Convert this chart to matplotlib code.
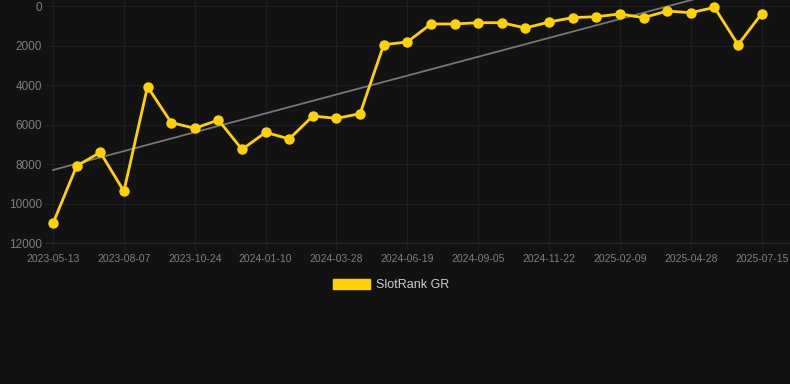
import matplotlib.pyplot as plt
from matplotlib.patches import Patch
import numpy as np

# rank values (lower = better, axis inverted)
ranks = [11000, 8100, 7410, 9380, 4085, 5900, 6195, 5770, 7260, 6400,
         6730, 5570, 5690, 5450, 1960, 1820, 910, 910, 845, 845,
         1115, 810, 590, 540, 405, 590, 255, 340, 70, 1960, 390]
tick_labels = ['2023-05-13', '2023-08-07', '2023-10-24', '2024-01-10', '2024-03-28',
               '2024-06-19', '2024-09-05', '2024-11-22', '2025-02-09', '2025-04-28',
               '2025-07-15']
yticks = [0, 2000, 4000, 6000, 8000, 10000, 12000]

bg = '#121212'
gold = '#FFD200'
grid = '#1e1e1e'
txt = '#7f7f7f'

plt.rcParams['font.family'] = ['Liberation Sans', 'DejaVu Sans']

fig = plt.figure(figsize=(7.9, 3.84), dpi=100, facecolor=bg)
ax = fig.add_axes([45 / 790, (384 - 243) / 384, 745 / 790, 243 / 384])
ax.set_facecolor(bg)

x = np.arange(len(ranks))
coef = np.polyfit(x, ranks, 1)
ax.plot(x, np.polyval(coef, x), color='#767676', lw=1.3, zorder=2)
ax.plot(x, ranks, color=gold, lw=2.0, marker='o', markersize=6.5, zorder=3)

ax.set_xlim(-0.34, 31.2)
ax.set_ylim(12000, -304)
ax.set_yticks(yticks)
ax.set_yticklabels([str(v) for v in yticks])
ax.set_xticks(x[::3])
ax.set_xticklabels(tick_labels)

ax.grid(True, color=grid, lw=0.8)
for s in ['top', 'right', 'left']:
    ax.spines[s].set_visible(False)
ax.spines['bottom'].set_color('#2a2a2a')
ax.tick_params(axis='y', length=0, pad=2, labelsize=8.5, colors=txt)
ax.tick_params(axis='x', length=5, width=0.8, color=grid, pad=3, labelsize=7.5, labelcolor=txt)

fig.legend(handles=[Patch(color=gold, label='SlotRank GR')], loc='center',
           bbox_to_anchor=(391 / 790, 1 - 285 / 384), frameon=False,
           handlelength=3.0, handleheight=0.9, handletextpad=0.5,
           fontsize=9, labelcolor='#cccccc')

fig.savefig('out.png', dpi=100, facecolor=bg)
